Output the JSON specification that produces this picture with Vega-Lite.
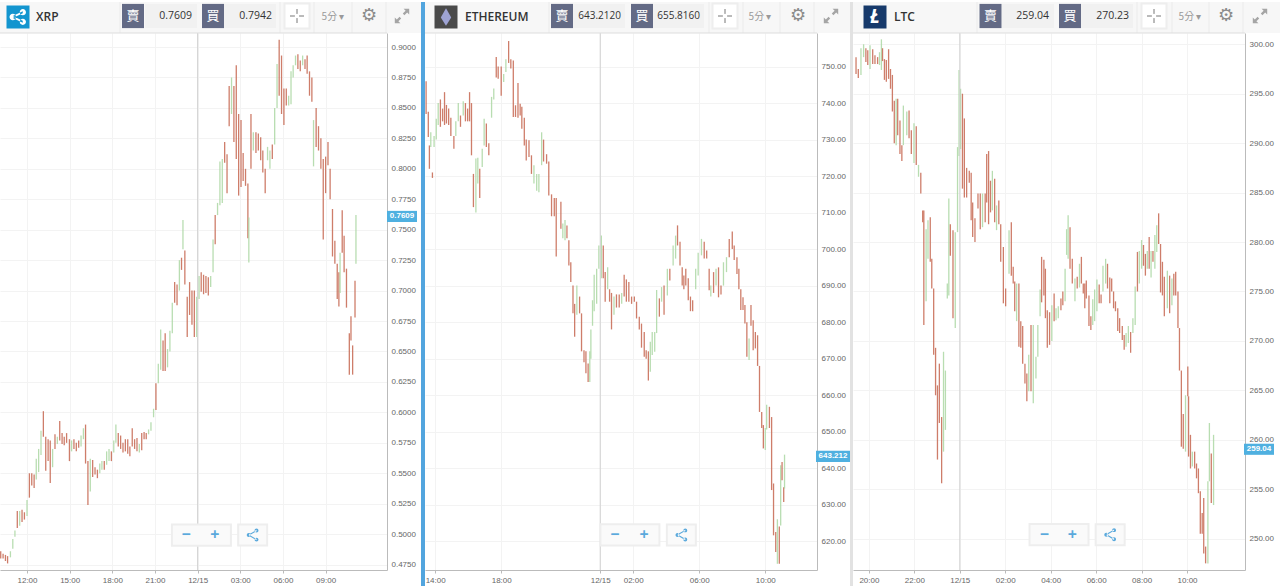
{
"$schema":"https://vega.github.io/schema/vega-lite/v6.json",
"padding":{"left":-1,"top":-1,"right":0,"bottom":0},
"background":"#ffffff",
"config":{"view":{"stroke":null},"text":{"font":"Open Sans","baseline":"middle"},"axis":{"labelFont":"Liberation Sans","labelFontSize":8,"labelColor":"#666666","gridColor":"#f3f3f3","gridWidth":1,"domainColor":"#bbbbbb","title":null}},
"datasets":{
"xrp":[
{"m":-831,"lo":0.480,"hi":0.486,"c":"r"},{"m":-821,"lo":0.480,"hi":0.484,"c":"r"},{"m":-811,"lo":0.478,"hi":0.483,"c":"r"},{"m":-802,"lo":0.476,"hi":0.482,"c":"r"},{"m":-790,"lo":0.481,"hi":0.486,"c":"g"},{"m":-780,"lo":0.488,"hi":0.496,"c":"g"},{"m":-771,"lo":0.498,"hi":0.503,"c":"g"},{"m":-761,"lo":0.505,"hi":0.519,"c":"r"},{"m":-751,"lo":0.507,"hi":0.519,"c":"g"},{"m":-741,"lo":0.510,"hi":0.520,"c":"r"},{"m":-731,"lo":0.512,"hi":0.518,"c":"r"},{"m":-720,"lo":0.515,"hi":0.528,"c":"g"},{"m":-710,"lo":0.530,"hi":0.550,"c":"r"},{"m":-700,"lo":0.540,"hi":0.550,"c":"r"},{"m":-690,"lo":0.538,"hi":0.549,"c":"r"},{"m":-681,"lo":0.545,"hi":0.562,"c":"g"},{"m":-671,"lo":0.551,"hi":0.570,"c":"g"},{"m":-661,"lo":0.565,"hi":0.585,"c":"g"},{"m":-651,"lo":0.580,"hi":0.601,"c":"r"},{"m":-641,"lo":0.552,"hi":0.580,"c":"r"},{"m":-631,"lo":0.560,"hi":0.578,"c":"r"},{"m":-622,"lo":0.542,"hi":0.577,"c":"r"},{"m":-612,"lo":0.555,"hi":0.570,"c":"g"},{"m":-602,"lo":0.570,"hi":0.582,"c":"r"},{"m":-592,"lo":0.574,"hi":0.580,"c":"g"},{"m":-582,"lo":0.577,"hi":0.593,"c":"r"},{"m":-572,"lo":0.574,"hi":0.583,"c":"r"},{"m":-563,"lo":0.573,"hi":0.580,"c":"r"},{"m":-553,"lo":0.575,"hi":0.583,"c":"r"},{"m":-541,"lo":0.560,"hi":0.578,"c":"r"},{"m":-532,"lo":0.568,"hi":0.577,"c":"g"},{"m":-522,"lo":0.570,"hi":0.578,"c":"r"},{"m":-512,"lo":0.568,"hi":0.575,"c":"r"},{"m":-502,"lo":0.571,"hi":0.577,"c":"r"},{"m":-492,"lo":0.572,"hi":0.581,"c":"g"},{"m":-482,"lo":0.578,"hi":0.587,"c":"g"},{"m":-473,"lo":0.558,"hi":0.590,"c":"r"},{"m":-463,"lo":0.524,"hi":0.560,"c":"r"},{"m":-453,"lo":0.535,"hi":0.562,"c":"g"},{"m":-443,"lo":0.547,"hi":0.561,"c":"r"},{"m":-433,"lo":0.549,"hi":0.555,"c":"r"},{"m":-423,"lo":0.546,"hi":0.553,"c":"r"},{"m":-413,"lo":0.550,"hi":0.558,"c":"g"},{"m":-404,"lo":0.553,"hi":0.560,"c":"g"},{"m":-394,"lo":0.553,"hi":0.560,"c":"r"},{"m":-384,"lo":0.557,"hi":0.568,"c":"g"},{"m":-374,"lo":0.560,"hi":0.570,"c":"g"},{"m":-364,"lo":0.560,"hi":0.568,"c":"r"},{"m":-354,"lo":0.567,"hi":0.577,"c":"g"},{"m":-345,"lo":0.575,"hi":0.590,"c":"g"},{"m":-335,"lo":0.572,"hi":0.583,"c":"r"},{"m":-325,"lo":0.570,"hi":0.581,"c":"r"},{"m":-315,"lo":0.567,"hi":0.575,"c":"r"},{"m":-305,"lo":0.568,"hi":0.578,"c":"r"},{"m":-295,"lo":0.566,"hi":0.578,"c":"r"},{"m":-286,"lo":0.564,"hi":0.572,"c":"r"},{"m":-276,"lo":0.572,"hi":0.587,"c":"r"},{"m":-266,"lo":0.570,"hi":0.578,"c":"r"},{"m":-256,"lo":0.568,"hi":0.579,"c":"r"},{"m":-246,"lo":0.567,"hi":0.574,"c":"g"},{"m":-236,"lo":0.569,"hi":0.583,"c":"r"},{"m":-226,"lo":0.578,"hi":0.584,"c":"r"},{"m":-217,"lo":0.578,"hi":0.583,"c":"r"},{"m":-207,"lo":0.582,"hi":0.586,"c":"g"},{"m":-197,"lo":0.585,"hi":0.592,"c":"g"},{"m":-186,"lo":0.596,"hi":0.603,"c":"g"},{"m":-176,"lo":0.602,"hi":0.624,"c":"r"},{"m":-166,"lo":0.624,"hi":0.640,"c":"g"},{"m":-156,"lo":0.635,"hi":0.668,"c":"g"},{"m":-146,"lo":0.634,"hi":0.659,"c":"r"},{"m":-137,"lo":0.634,"hi":0.665,"c":"r"},{"m":-127,"lo":0.637,"hi":0.652,"c":"g"},{"m":-117,"lo":0.650,"hi":0.667,"c":"g"},{"m":-107,"lo":0.665,"hi":0.690,"c":"g"},{"m":-97,"lo":0.690,"hi":0.707,"c":"r"},{"m":-87,"lo":0.688,"hi":0.705,"c":"r"},{"m":-77,"lo":0.700,"hi":0.725,"c":"g"},{"m":-68,"lo":0.717,"hi":0.727,"c":"r"},{"m":-62,"lo":0.734,"hi":0.758,"c":"g"},{"m":-54,"lo":0.705,"hi":0.733,"c":"r"},{"m":-44,"lo":0.662,"hi":0.695,"c":"r"},{"m":-34,"lo":0.680,"hi":0.707,"c":"r"},{"m":-24,"lo":0.672,"hi":0.700,"c":"r"},{"m":-14,"lo":0.662,"hi":0.700,"c":"r"},{"m":-4,"lo":0.662,"hi":0.695,"c":"g"},{"m":6,"lo":0.693,"hi":0.712,"c":"g"},{"m":15,"lo":0.699,"hi":0.715,"c":"r"},{"m":25,"lo":0.697,"hi":0.713,"c":"r"},{"m":35,"lo":0.698,"hi":0.712,"c":"r"},{"m":45,"lo":0.696,"hi":0.711,"c":"r"},{"m":55,"lo":0.703,"hi":0.712,"c":"g"},{"m":65,"lo":0.715,"hi":0.742,"c":"g"},{"m":74,"lo":0.738,"hi":0.762,"c":"r"},{"m":84,"lo":0.762,"hi":0.772,"c":"g"},{"m":94,"lo":0.770,"hi":0.806,"c":"g"},{"m":104,"lo":0.772,"hi":0.808,"c":"g"},{"m":114,"lo":0.805,"hi":0.822,"c":"r"},{"m":124,"lo":0.780,"hi":0.812,"c":"r"},{"m":133,"lo":0.835,"hi":0.868,"c":"r"},{"m":143,"lo":0.845,"hi":0.875,"c":"g"},{"m":153,"lo":0.822,"hi":0.868,"c":"r"},{"m":163,"lo":0.808,"hi":0.885,"c":"r"},{"m":173,"lo":0.778,"hi":0.845,"c":"r"},{"m":183,"lo":0.785,"hi":0.840,"c":"r"},{"m":192,"lo":0.790,"hi":0.813,"c":"r"},{"m":202,"lo":0.786,"hi":0.800,"c":"r"},{"m":212,"lo":0.743,"hi":0.788,"c":"r"},{"m":216,"lo":0.723,"hi":0.760,"c":"g"},{"m":225,"lo":0.800,"hi":0.845,"c":"r"},{"m":235,"lo":0.815,"hi":0.830,"c":"g"},{"m":246,"lo":0.813,"hi":0.830,"c":"r"},{"m":256,"lo":0.815,"hi":0.829,"c":"r"},{"m":266,"lo":0.807,"hi":0.826,"c":"r"},{"m":275,"lo":0.797,"hi":0.815,"c":"r"},{"m":285,"lo":0.780,"hi":0.800,"c":"r"},{"m":295,"lo":0.807,"hi":0.818,"c":"g"},{"m":305,"lo":0.800,"hi":0.815,"c":"g"},{"m":315,"lo":0.808,"hi":0.820,"c":"r"},{"m":325,"lo":0.820,"hi":0.850,"c":"g"},{"m":335,"lo":0.850,"hi":0.886,"c":"g"},{"m":344,"lo":0.860,"hi":0.906,"c":"r"},{"m":354,"lo":0.845,"hi":0.893,"c":"r"},{"m":364,"lo":0.836,"hi":0.866,"c":"r"},{"m":374,"lo":0.852,"hi":0.866,"c":"r"},{"m":384,"lo":0.852,"hi":0.860,"c":"g"},{"m":394,"lo":0.853,"hi":0.880,"c":"g"},{"m":403,"lo":0.875,"hi":0.885,"c":"g"},{"m":413,"lo":0.885,"hi":0.893,"c":"g"},{"m":423,"lo":0.882,"hi":0.894,"c":"r"},{"m":433,"lo":0.880,"hi":0.889,"c":"r"},{"m":443,"lo":0.885,"hi":0.893,"c":"g"},{"m":453,"lo":0.882,"hi":0.890,"c":"r"},{"m":462,"lo":0.878,"hi":0.893,"c":"r"},{"m":472,"lo":0.860,"hi":0.880,"c":"r"},{"m":482,"lo":0.855,"hi":0.875,"c":"r"},{"m":489,"lo":0.802,"hi":0.840,"c":"g"},{"m":500,"lo":0.818,"hi":0.850,"c":"r"},{"m":510,"lo":0.815,"hi":0.835,"c":"r"},{"m":520,"lo":0.800,"hi":0.825,"c":"r"},{"m":530,"lo":0.742,"hi":0.808,"c":"r"},{"m":540,"lo":0.780,"hi":0.810,"c":"r"},{"m":550,"lo":0.803,"hi":0.822,"c":"r"},{"m":559,"lo":0.775,"hi":0.800,"c":"r"},{"m":569,"lo":0.728,"hi":0.767,"c":"r"},{"m":579,"lo":0.722,"hi":0.741,"c":"r"},{"m":589,"lo":0.693,"hi":0.722,"c":"r"},{"m":596,"lo":0.687,"hi":0.715,"c":"r"},{"m":601,"lo":0.698,"hi":0.731,"c":"g"},{"m":610,"lo":0.731,"hi":0.766,"c":"r"},{"m":618,"lo":0.715,"hi":0.745,"c":"r"},{"m":628,"lo":0.686,"hi":0.718,"c":"r"},{"m":640,"lo":0.631,"hi":0.665,"c":"r"},{"m":647,"lo":0.659,"hi":0.679,"c":"r"},{"m":654,"lo":0.631,"hi":0.655,"c":"r"},{"m":664,"lo":0.678,"hi":0.708,"c":"r"},{"m":668,"lo":0.722,"hi":0.762,"c":"g"}
],
"eth":[
{"m":-633,"lo":737,"hi":746,"c":"r"},{"m":-625,"lo":730.7,"hi":737.6,"c":"r"},{"m":-621,"lo":722,"hi":728.4,"c":"r"},{"m":-616,"lo":728,"hi":732,"c":"g"},{"m":-610,"lo":719.5,"hi":721,"c":"r"},{"m":-604,"lo":728,"hi":731,"c":"g"},{"m":-596,"lo":730,"hi":735.7,"c":"g"},{"m":-589,"lo":734,"hi":740,"c":"g"},{"m":-581,"lo":733.5,"hi":741,"c":"r"},{"m":-573,"lo":735,"hi":738.5,"c":"r"},{"m":-566,"lo":734,"hi":743,"c":"r"},{"m":-559,"lo":734.4,"hi":739.5,"c":"r"},{"m":-551,"lo":734,"hi":738.5,"c":"r"},{"m":-543,"lo":731,"hi":736,"c":"r"},{"m":-532,"lo":727.5,"hi":731,"c":"r"},{"m":-525,"lo":731,"hi":735,"c":"g"},{"m":-516,"lo":735,"hi":740,"c":"g"},{"m":-508,"lo":733.5,"hi":736.6,"c":"r"},{"m":-498,"lo":736.6,"hi":740.5,"c":"g"},{"m":-490,"lo":735,"hi":740,"c":"r"},{"m":-482,"lo":735,"hi":738.5,"c":"r"},{"m":-475,"lo":735,"hi":743,"c":"r"},{"m":-468,"lo":725.7,"hi":740,"c":"r"},{"m":-461,"lo":711.5,"hi":720.6,"c":"r"},{"m":-452,"lo":710,"hi":724.8,"c":"g"},{"m":-445,"lo":718,"hi":725,"c":"g"},{"m":-438,"lo":714,"hi":722,"c":"r"},{"m":-429,"lo":722.5,"hi":727.5,"c":"g"},{"m":-422,"lo":728.4,"hi":735.7,"c":"g"},{"m":-414,"lo":728,"hi":734.4,"c":"r"},{"m":-405,"lo":725.7,"hi":729,"c":"r"},{"m":-395,"lo":736,"hi":741.7,"c":"g"},{"m":-387,"lo":741,"hi":744,"c":"g"},{"m":-378,"lo":747,"hi":752.6,"c":"r"},{"m":-371,"lo":746.7,"hi":750,"c":"r"},{"m":-360,"lo":742,"hi":750,"c":"r"},{"m":-351,"lo":745.8,"hi":748,"c":"g"},{"m":-343,"lo":748.5,"hi":752,"c":"g"},{"m":-333,"lo":751,"hi":757,"c":"r"},{"m":-325,"lo":749.5,"hi":752,"c":"r"},{"m":-316,"lo":736.2,"hi":751.7,"c":"r"},{"m":-308,"lo":736.2,"hi":739.4,"c":"r"},{"m":-299,"lo":736,"hi":745.5,"c":"r"},{"m":-291,"lo":736.6,"hi":739.8,"c":"r"},{"m":-285,"lo":733,"hi":739,"c":"r"},{"m":-276,"lo":728.4,"hi":736,"c":"r"},{"m":-269,"lo":724.3,"hi":730,"c":"r"},{"m":-259,"lo":725.2,"hi":729.8,"c":"r"},{"m":-250,"lo":720.6,"hi":725.7,"c":"r"},{"m":-241,"lo":718,"hi":723,"c":"g"},{"m":-231,"lo":716,"hi":720.6,"c":"g"},{"m":-223,"lo":715.6,"hi":720.6,"c":"g"},{"m":-213,"lo":723,"hi":732,"c":"g"},{"m":-206,"lo":724,"hi":730,"c":"r"},{"m":-195,"lo":723.4,"hi":726,"c":"r"},{"m":-187,"lo":714.7,"hi":724,"c":"r"},{"m":-177,"lo":709,"hi":715,"c":"r"},{"m":-167,"lo":709,"hi":714,"c":"r"},{"m":-160,"lo":698,"hi":714,"c":"r"},{"m":-143,"lo":705.6,"hi":713,"c":"r"},{"m":-136,"lo":703,"hi":707,"c":"g"},{"m":-128,"lo":702.4,"hi":708,"c":"g"},{"m":-121,"lo":703,"hi":706.5,"c":"r"},{"m":-114,"lo":695.5,"hi":702.4,"c":"r"},{"m":-107,"lo":691,"hi":696.4,"c":"r"},{"m":-99,"lo":682.4,"hi":690,"c":"r"},{"m":-93,"lo":676,"hi":685,"c":"r"},{"m":-85,"lo":682,"hi":690,"c":"g"},{"m":-75,"lo":682.4,"hi":687,"c":"r"},{"m":-68,"lo":672,"hi":682.4,"c":"r"},{"m":-59,"lo":669,"hi":672.3,"c":"r"},{"m":-52,"lo":666,"hi":672,"c":"r"},{"m":-44,"lo":663.6,"hi":668.7,"c":"r"},{"m":-38,"lo":663.6,"hi":672,"c":"g"},{"m":-34,"lo":670,"hi":678,"c":"g"},{"m":-28,"lo":679,"hi":686,"c":"g"},{"m":-22,"lo":683,"hi":693,"c":"g"},{"m":-13,"lo":685,"hi":694.6,"c":"g"},{"m":-5,"lo":694.6,"hi":701,"c":"g"},{"m":4,"lo":692,"hi":703.7,"c":"g"},{"m":11,"lo":692,"hi":701,"c":"r"},{"m":18,"lo":685.6,"hi":693.7,"c":"r"},{"m":27,"lo":689,"hi":695,"c":"g"},{"m":34,"lo":685.6,"hi":689,"c":"r"},{"m":41,"lo":678,"hi":688,"c":"r"},{"m":50,"lo":682,"hi":687,"c":"g"},{"m":59,"lo":684,"hi":687.6,"c":"r"},{"m":69,"lo":684,"hi":687.6,"c":"r"},{"m":78,"lo":685,"hi":688,"c":"g"},{"m":87,"lo":687,"hi":693,"c":"r"},{"m":95,"lo":685.6,"hi":691.7,"c":"r"},{"m":104,"lo":685.6,"hi":691,"c":"r"},{"m":114,"lo":685,"hi":687,"c":"r"},{"m":124,"lo":685.6,"hi":687,"c":"r"},{"m":132,"lo":681,"hi":685.6,"c":"r"},{"m":142,"lo":678,"hi":681.5,"c":"r"},{"m":150,"lo":673,"hi":679.6,"c":"r"},{"m":160,"lo":670.5,"hi":677.3,"c":"r"},{"m":167,"lo":670,"hi":672.3,"c":"r"},{"m":175,"lo":664,"hi":672,"c":"r"},{"m":182,"lo":666.4,"hi":674.6,"c":"g"},{"m":189,"lo":671,"hi":677.3,"c":"g"},{"m":198,"lo":671.9,"hi":677.3,"c":"g"},{"m":205,"lo":677,"hi":688.8,"c":"g"},{"m":215,"lo":681.5,"hi":686.5,"c":"r"},{"m":223,"lo":685.6,"hi":689.6,"c":"g"},{"m":232,"lo":682,"hi":690,"c":"r"},{"m":244,"lo":687.3,"hi":694.6,"c":"g"},{"m":253,"lo":691.4,"hi":694.6,"c":"r"},{"m":265,"lo":695.5,"hi":701,"c":"g"},{"m":274,"lo":697.4,"hi":703.7,"c":"g"},{"m":281,"lo":701,"hi":706.5,"c":"r"},{"m":290,"lo":695.5,"hi":702,"c":"r"},{"m":298,"lo":690,"hi":695,"c":"r"},{"m":304,"lo":689,"hi":692.8,"c":"r"},{"m":311,"lo":690,"hi":694.6,"c":"r"},{"m":320,"lo":686,"hi":692,"c":"r"},{"m":328,"lo":683,"hi":687,"c":"r"},{"m":336,"lo":683,"hi":686,"c":"r"},{"m":347,"lo":689,"hi":694.6,"c":"g"},{"m":356,"lo":692.8,"hi":699,"c":"g"},{"m":368,"lo":698.3,"hi":702.8,"c":"g"},{"m":378,"lo":697.4,"hi":702,"c":"r"},{"m":387,"lo":697.4,"hi":699.6,"c":"r"},{"m":396,"lo":688.7,"hi":694.6,"c":"r"},{"m":402,"lo":687,"hi":690,"c":"g"},{"m":412,"lo":688,"hi":693.7,"c":"r"},{"m":421,"lo":690,"hi":694.6,"c":"g"},{"m":430,"lo":686.8,"hi":695,"c":"r"},{"m":439,"lo":687.6,"hi":690,"c":"r"},{"m":448,"lo":690,"hi":696.4,"c":"g"},{"m":459,"lo":693.7,"hi":697.8,"c":"g"},{"m":469,"lo":697.8,"hi":702.8,"c":"r"},{"m":480,"lo":700,"hi":704.8,"c":"r"},{"m":487,"lo":697,"hi":701,"c":"r"},{"m":497,"lo":693.2,"hi":697.8,"c":"r"},{"m":504,"lo":689,"hi":694.6,"c":"r"},{"m":511,"lo":683.3,"hi":689,"c":"r"},{"m":519,"lo":683.3,"hi":686.8,"c":"r"},{"m":526,"lo":679.6,"hi":684.7,"c":"r"},{"m":533,"lo":670.5,"hi":680,"c":"r"},{"m":541,"lo":669.6,"hi":675.5,"c":"g"},{"m":548,"lo":679,"hi":684.7,"c":"r"},{"m":556,"lo":672.3,"hi":680.5,"c":"r"},{"m":564,"lo":672.8,"hi":677.3,"c":"r"},{"m":572,"lo":668,"hi":676.4,"c":"r"},{"m":579,"lo":655.4,"hi":668,"c":"r"},{"m":587,"lo":651,"hi":655.4,"c":"r"},{"m":593,"lo":645.4,"hi":651.8,"c":"r"},{"m":600,"lo":645,"hi":651,"c":"g"},{"m":605,"lo":650.6,"hi":657.4,"c":"g"},{"m":615,"lo":651,"hi":656.8,"c":"r"},{"m":623,"lo":634,"hi":654,"c":"r"},{"m":630,"lo":621.6,"hi":635.8,"c":"r"},{"m":638,"lo":617,"hi":622.5,"c":"r"},{"m":644,"lo":613.8,"hi":626,"c":"g"},{"m":651,"lo":613.8,"hi":624,"c":"r"},{"m":656,"lo":624.3,"hi":640.8,"c":"g"},{"m":661,"lo":636.7,"hi":641.7,"c":"r"},{"m":667,"lo":630.7,"hi":634.8,"c":"r"},{"m":670,"lo":634.4,"hi":643.7,"c":"g"}
],
"ltc":[
{"m":-274,"lo":297,"hi":298.7,"c":"r"},{"m":-268,"lo":296.6,"hi":297.5,"c":"r"},{"m":-261,"lo":296.9,"hi":299.6,"c":"g"},{"m":-254,"lo":298.7,"hi":300,"c":"g"},{"m":-248,"lo":298.2,"hi":299.6,"c":"r"},{"m":-243,"lo":297.9,"hi":299.4,"c":"r"},{"m":-237,"lo":297.5,"hi":299.9,"c":"g"},{"m":-230,"lo":298,"hi":299.5,"c":"r"},{"m":-224,"lo":298,"hi":298.9,"c":"r"},{"m":-217,"lo":298,"hi":298.7,"c":"r"},{"m":-212,"lo":297.9,"hi":299.2,"c":"g"},{"m":-207,"lo":297.4,"hi":300.5,"c":"g"},{"m":-204,"lo":298.3,"hi":299.6,"c":"r"},{"m":-199,"lo":296.4,"hi":298.5,"c":"r"},{"m":-194,"lo":296.2,"hi":298.4,"c":"r"},{"m":-188,"lo":296.5,"hi":299.5,"c":"r"},{"m":-183,"lo":295.5,"hi":297.5,"c":"r"},{"m":-178,"lo":293.2,"hi":296.9,"c":"r"},{"m":-173,"lo":290,"hi":294.3,"c":"r"},{"m":-168,"lo":289.8,"hi":294.5,"c":"g"},{"m":-164,"lo":290.8,"hi":294.5,"c":"r"},{"m":-158,"lo":288.9,"hi":292.3,"c":"r"},{"m":-153,"lo":288.2,"hi":289.8,"c":"r"},{"m":-149,"lo":289.8,"hi":293.8,"c":"g"},{"m":-140,"lo":290.8,"hi":293.2,"c":"g"},{"m":-134,"lo":290.5,"hi":293.3,"c":"r"},{"m":-128,"lo":288.9,"hi":291.3,"c":"r"},{"m":-121,"lo":288,"hi":292,"c":"g"},{"m":-115,"lo":287.8,"hi":291.7,"c":"r"},{"m":-109,"lo":286.6,"hi":287.8,"c":"g"},{"m":-103,"lo":284.9,"hi":287,"c":"r"},{"m":-98,"lo":282,"hi":283.2,"c":"r"},{"m":-95,"lo":271.6,"hi":283.2,"c":"r"},{"m":-89,"lo":274,"hi":281.3,"c":"g"},{"m":-84,"lo":278.3,"hi":282.2,"c":"g"},{"m":-78,"lo":278,"hi":282.5,"c":"r"},{"m":-74,"lo":275.3,"hi":278.3,"c":"r"},{"m":-69,"lo":268.6,"hi":275.3,"c":"r"},{"m":-64,"lo":264.5,"hi":269.3,"c":"r"},{"m":-59,"lo":258,"hi":265.5,"c":"r"},{"m":-54,"lo":261.7,"hi":267.7,"c":"r"},{"m":-48,"lo":255.6,"hi":262.3,"c":"r"},{"m":-43,"lo":258.8,"hi":268.9,"c":"g"},{"m":-38,"lo":261,"hi":267,"c":"g"},{"m":-33,"lo":274.3,"hi":275.8,"c":"g"},{"m":-29,"lo":274.6,"hi":284.4,"c":"g"},{"m":-25,"lo":278.6,"hi":281.8,"c":"r"},{"m":-18,"lo":272.3,"hi":281.2,"c":"r"},{"m":-12,"lo":271.3,"hi":281,"c":"g"},{"m":-6,"lo":281,"hi":289.6,"c":"g"},{"m":-2,"lo":288.7,"hi":297.4,"c":"g"},{"m":2,"lo":289.4,"hi":295.5,"c":"g"},{"m":7,"lo":285.4,"hi":295,"c":"r"},{"m":12,"lo":284.5,"hi":292.5,"c":"r"},{"m":18,"lo":284.5,"hi":287.5,"c":"r"},{"m":25,"lo":286,"hi":287.2,"c":"r"},{"m":30,"lo":282.2,"hi":287,"c":"r"},{"m":34,"lo":280.5,"hi":284,"c":"r"},{"m":40,"lo":280,"hi":282.4,"c":"r"},{"m":48,"lo":283.4,"hi":284.9,"c":"r"},{"m":54,"lo":281.3,"hi":284.9,"c":"r"},{"m":60,"lo":281.5,"hi":284.9,"c":"g"},{"m":67,"lo":282,"hi":284.9,"c":"r"},{"m":71,"lo":284,"hi":288.9,"c":"r"},{"m":76,"lo":281.8,"hi":289.2,"c":"r"},{"m":81,"lo":283,"hi":286.2,"c":"r"},{"m":86,"lo":283.2,"hi":287.2,"c":"g"},{"m":92,"lo":282,"hi":286.4,"c":"r"},{"m":97,"lo":281.2,"hi":283.7,"c":"g"},{"m":103,"lo":281.8,"hi":284.2,"c":"r"},{"m":108,"lo":278,"hi":281.8,"c":"r"},{"m":115,"lo":273.8,"hi":279.5,"c":"r"},{"m":121,"lo":273.5,"hi":275.3,"c":"r"},{"m":130,"lo":276.8,"hi":281.2,"c":"g"},{"m":136,"lo":276.6,"hi":282,"c":"r"},{"m":141,"lo":275.8,"hi":277.5,"c":"r"},{"m":145,"lo":273,"hi":276,"c":"r"},{"m":150,"lo":272,"hi":275.8,"c":"g"},{"m":156,"lo":269.4,"hi":275.8,"c":"r"},{"m":161,"lo":269.3,"hi":272,"c":"r"},{"m":166,"lo":267.7,"hi":271.5,"c":"r"},{"m":172,"lo":265.7,"hi":267.7,"c":"r"},{"m":177,"lo":263.9,"hi":266.7,"c":"r"},{"m":182,"lo":264.9,"hi":268.6,"c":"g"},{"m":188,"lo":264.9,"hi":271.6,"c":"r"},{"m":194,"lo":263.7,"hi":271.6,"c":"g"},{"m":201,"lo":266.2,"hi":268.4,"c":"g"},{"m":206,"lo":268.4,"hi":271.6,"c":"g"},{"m":212,"lo":272.5,"hi":275.2,"c":"g"},{"m":216,"lo":273.9,"hi":278.5,"c":"r"},{"m":222,"lo":274.6,"hi":278.2,"c":"r"},{"m":226,"lo":272.3,"hi":277.3,"c":"r"},{"m":231,"lo":269.3,"hi":273.1,"c":"r"},{"m":237,"lo":269.6,"hi":272.9,"c":"r"},{"m":243,"lo":270,"hi":273.6,"c":"g"},{"m":249,"lo":272,"hi":274.8,"c":"r"},{"m":254,"lo":272.1,"hi":273.3,"c":"g"},{"m":260,"lo":272.3,"hi":273.5,"c":"g"},{"m":267,"lo":273.1,"hi":274.3,"c":"r"},{"m":272,"lo":273.6,"hi":275,"c":"r"},{"m":278,"lo":274,"hi":277.3,"c":"g"},{"m":282,"lo":278.7,"hi":281.3,"c":"g"},{"m":286,"lo":278.3,"hi":282.7,"c":"g"},{"m":291,"lo":277.3,"hi":281.5,"c":"r"},{"m":297,"lo":275.8,"hi":278.3,"c":"r"},{"m":304,"lo":274,"hi":276.3,"c":"g"},{"m":310,"lo":275.3,"hi":276.5,"c":"r"},{"m":316,"lo":275.4,"hi":277.8,"c":"g"},{"m":321,"lo":275.8,"hi":278.5,"c":"r"},{"m":326,"lo":274.8,"hi":275.8,"c":"r"},{"m":330,"lo":273.3,"hi":275.8,"c":"r"},{"m":334,"lo":274.3,"hi":276.1,"c":"r"},{"m":341,"lo":271.5,"hi":274.6,"c":"r"},{"m":346,"lo":271.1,"hi":272.5,"c":"r"},{"m":351,"lo":271.6,"hi":274.2,"c":"g"},{"m":356,"lo":272,"hi":275.2,"c":"g"},{"m":362,"lo":273,"hi":276.2,"c":"g"},{"m":368,"lo":273.8,"hi":275.7,"c":"r"},{"m":373,"lo":273.8,"hi":274.7,"c":"r"},{"m":378,"lo":275,"hi":277.6,"c":"g"},{"m":385,"lo":275.8,"hi":278.3,"c":"g"},{"m":390,"lo":275.3,"hi":277.8,"c":"r"},{"m":396,"lo":273.8,"hi":276.4,"c":"r"},{"m":401,"lo":275,"hi":276.3,"c":"r"},{"m":406,"lo":273.3,"hi":275,"c":"r"},{"m":411,"lo":273,"hi":274,"c":"r"},{"m":417,"lo":271,"hi":273.3,"c":"r"},{"m":422,"lo":270.8,"hi":272.3,"c":"r"},{"m":429,"lo":270.1,"hi":271.5,"c":"r"},{"m":434,"lo":269.1,"hi":270.6,"c":"r"},{"m":439,"lo":269.4,"hi":270.8,"c":"g"},{"m":445,"lo":269.8,"hi":271.5,"c":"g"},{"m":451,"lo":268.8,"hi":270.9,"c":"r"},{"m":457,"lo":270.8,"hi":272.3,"c":"g"},{"m":463,"lo":271.6,"hi":275.5,"c":"g"},{"m":469,"lo":275,"hi":279,"c":"r"},{"m":474,"lo":275.8,"hi":279.1,"c":"g"},{"m":480,"lo":277.3,"hi":280.2,"c":"g"},{"m":485,"lo":277.6,"hi":279.7,"c":"r"},{"m":490,"lo":276.6,"hi":278.8,"c":"r"},{"m":495,"lo":277.3,"hi":279.1,"c":"g"},{"m":500,"lo":277.3,"hi":280.5,"c":"r"},{"m":505,"lo":276.4,"hi":279.1,"c":"g"},{"m":510,"lo":278,"hi":279.1,"c":"r"},{"m":515,"lo":277.3,"hi":280.7,"c":"g"},{"m":520,"lo":279,"hi":281.7,"c":"g"},{"m":525,"lo":279.8,"hi":282.9,"c":"r"},{"m":530,"lo":274.9,"hi":279.8,"c":"r"},{"m":535,"lo":274.6,"hi":278,"c":"r"},{"m":540,"lo":272.5,"hi":276.5,"c":"r"},{"m":548,"lo":273.3,"hi":277.1,"c":"g"},{"m":554,"lo":272.8,"hi":276.6,"c":"r"},{"m":560,"lo":273.6,"hi":276.3,"c":"g"},{"m":565,"lo":274.6,"hi":276.8,"c":"r"},{"m":570,"lo":274.6,"hi":277,"c":"r"},{"m":576,"lo":271.3,"hi":275,"c":"r"},{"m":580,"lo":267,"hi":271.3,"c":"r"},{"m":585,"lo":259.3,"hi":267,"c":"r"},{"m":590,"lo":259.1,"hi":262.6,"c":"r"},{"m":596,"lo":258.8,"hi":264.5,"c":"g"},{"m":602,"lo":264.4,"hi":267.4,"c":"r"},{"m":604,"lo":258.3,"hi":264.4,"c":"r"},{"m":609,"lo":257.1,"hi":260.5,"c":"r"},{"m":614,"lo":257.3,"hi":258.8,"c":"g"},{"m":620,"lo":257.1,"hi":258.8,"c":"r"},{"m":625,"lo":256.1,"hi":257.6,"c":"r"},{"m":630,"lo":254.6,"hi":257.1,"c":"r"},{"m":635,"lo":250.5,"hi":254.8,"c":"r"},{"m":640,"lo":250.5,"hi":252.6,"c":"r"},{"m":644,"lo":248.5,"hi":254.1,"c":"r"},{"m":649,"lo":247.5,"hi":249.2,"c":"r"},{"m":655,"lo":247.5,"hi":255.8,"c":"g"},{"m":659,"lo":255.8,"hi":261.7,"c":"g"},{"m":664,"lo":253.6,"hi":258.6,"c":"r"},{"m":670,"lo":253.4,"hi":260.5,"c":"g"}
]
},
"hconcat":[
{"spacing":0,"bounds":"flush","vconcat":[
{"width":421,"height":31,"view":{"fill":"#f7f7f7","stroke":null},"data":{"values":[{}]},"layer":[
{"mark":{"type":"rule","color":"#ebebeb"},"encoding":{"x":{"datum":120,"scale":{"domain":[0,421],"nice":false},"axis":null}}},
{"mark":{"type":"rule","color":"#ebebeb"},"encoding":{"x":{"datum":280,"axis":null}}},
{"mark":{"type":"rule","color":"#ebebeb"},"encoding":{"x":{"datum":314,"axis":null}}},
{"mark":{"type":"rule","color":"#ebebeb"},"encoding":{"x":{"datum":352,"axis":null}}},
{"mark":{"type":"rule","color":"#ebebeb"},"encoding":{"x":{"datum":386,"axis":null}}},
{"mark":{"type":"point","shape":"square","filled":true,"opacity":1,"color":"#1395cf","size":529},"encoding":{"x":{"datum":18,"axis":null},"y":{"datum":16,"scale":{"domain":[0,31],"nice":false},"axis":null}}},
{"mark":{"type":"point","shape":"M-.98,0a.38,.38 0 1,0 .76,0a.38,.38 0 1,0 -.76,0ZM.2,-.55a.36,.36 0 1,0 .72,0a.36,.36 0 1,0 -.72,0ZM.2,.55a.36,.36 0 1,0 .72,0a.36,.36 0 1,0 -.72,0ZM-.6,-.12L.55,-.67V-.43L-.6,.12ZM-.6,-.12L.55,.43V.67L-.6,.12Z","filled":true,"opacity":1,"color":"#ffffff","size":300},"encoding":{"x":{"datum":18,"axis":null},"y":{"datum":16,"axis":null}}},
{"mark":{"type":"text","align":"left","fontSize":12,"fontWeight":600,"color":"#333333"},"encoding":{"x":{"datum":36,"axis":null},"y":{"datum":16,"axis":null},"text":{"value":"XRP"}}},
{"mark":{"type":"point","shape":"M-1,-.46H1V.46H-1Z","filled":true,"opacity":1,"color":"#f1f1f1","size":2704},"encoding":{"x":{"datum":171,"axis":null},"y":{"datum":17,"axis":null}}},
{"mark":{"type":"point","shape":"M-1,-.46H1V.46H-1Z","filled":true,"opacity":1,"color":"#f1f1f1","size":2704},"encoding":{"x":{"datum":250,"axis":null},"y":{"datum":17,"axis":null}}},
{"mark":{"type":"point","shape":"M-1,-1.1H1V1.1H-1Z","filled":true,"opacity":1,"color":"#636a85","size":484},"encoding":{"x":{"datum":133,"axis":null},"y":{"datum":17,"axis":null}}},
{"mark":{"type":"point","shape":"M-1,-1.1H1V1.1H-1Z","filled":true,"opacity":1,"color":"#636a85","size":484},"encoding":{"x":{"datum":213,"axis":null},"y":{"datum":17,"axis":null}}},
{"mark":{"type":"text","font":"Noto Sans CJK TC","fontSize":13,"color":"#ffffff"},"encoding":{"x":{"datum":133,"axis":null},"y":{"datum":17,"axis":null},"text":{"value":"賣"}}},
{"mark":{"type":"text","font":"Noto Sans CJK TC","fontSize":13,"color":"#ffffff"},"encoding":{"x":{"datum":213,"axis":null},"y":{"datum":17,"axis":null},"text":{"value":"買"}}},
{"mark":{"type":"text","align":"right","fontSize":10.5,"color":"#333333"},"encoding":{"x":{"datum":192,"axis":null},"y":{"datum":17,"axis":null},"text":{"value":"0.7609"}}},
{"mark":{"type":"text","align":"right","fontSize":10.5,"color":"#333333"},"encoding":{"x":{"datum":272,"axis":null},"y":{"datum":17,"axis":null},"text":{"value":"0.7942"}}},
{"mark":{"type":"point","shape":"square","filled":true,"opacity":1,"color":"#ffffff","stroke":"#eeeeee","size":625},"encoding":{"x":{"datum":297,"axis":null},"y":{"datum":17,"axis":null}}},
{"mark":{"type":"point","shape":"M-1,0H-.3M.3,0H1M0,-1V-.3M0,.3V1","filled":false,"opacity":1,"color":"#777777","strokeWidth":1,"size":196},"encoding":{"x":{"datum":297,"axis":null},"y":{"datum":17,"axis":null}}},
{"mark":{"type":"text","font":"Noto Sans CJK TC","fontSize":10,"color":"#9a9a9a"},"encoding":{"x":{"datum":333,"axis":null},"y":{"datum":16,"axis":null},"text":{"value":"5分 ▾"}}},
{"mark":{"type":"text","font":"DejaVu Sans","fontSize":18,"color":"#8b8b8b"},"encoding":{"x":{"datum":369,"axis":null},"y":{"datum":17,"axis":null},"text":{"value":"⚙"}}},
{"mark":{"type":"point","shape":"M.2,-.9H.9V-.2L.65,-.45L.3,-.1L.1,-.3L.45,-.65ZM-.2,.9H-.9V.2L-.65,.45L-.3,.1L-.1,.3L-.45,.65Z","filled":true,"opacity":1,"color":"#a5a5a5","size":256},"encoding":{"x":{"datum":402,"axis":null},"y":{"datum":17,"axis":null}}}
]},
{"width":387,"height":537,"resolve":{"axis":{"x":"independent","y":"independent"}},"layer":[
{"data":{"name":"xrp"},"mark":{"type":"rule","strokeWidth":1.3,"opacity":0.85},"encoding":{
"x":{"field":"m","type":"quantitative","scale":{"domain":[-834,799],"nice":false,"zero":false},"axis":{"values":[-720,-540,-360,-180,0,180,360,540],"labelExpr":"datum.value==0?'12/15':format((datum.value+1440)%1440/60,'02d')+':00'","tickSize":3,"tickColor":"#bbbbbb","labelPadding":3,"minExtent":18,"maxExtent":18}},
"y":{"field":"lo","type":"quantitative","scale":{"domain":[0.4706,0.9115],"nice":false,"zero":false},"axis":{"orient":"right","values":[0.475,0.5,0.525,0.55,0.575,0.6,0.625,0.65,0.675,0.7,0.725,0.75,0.775,0.8,0.825,0.85,0.875,0.9],"format":".4f","tickSize":0,"labelPadding":4,"minExtent":34,"maxExtent":34}},
"y2":{"field":"hi"},
"color":{"field":"c","type":"nominal","scale":{"domain":["g","r"],"range":["#abd7a3","#c66650"]},"legend":null}}},
{"data":{"values":[{}]},"mark":{"type":"rule","color":"#d0d0d0"},"encoding":{"x":{"datum":0,"axis":null}}},
{"data":{"values":[{}]},"mark":{"type":"rule","color":"#dddddd"},"encoding":{"y":{"datum":0.9115,"axis":null}}},
{"data":{"values":[{"last":0.7609}]},"mark":{"type":"point","shape":"M-1,-.37H1V.37H-1Z","filled":true,"opacity":1,"color":"#4fb0e0","size":900,"xOffset":15},"encoding":{"x":{"datum":799,"axis":null},"y":{"field":"last","type":"quantitative","axis":null}}},
{"data":{"values":[{"last":0.7609}]},"mark":{"type":"text","font":"Liberation Sans","fontSize":8,"fontWeight":"bold","color":"#ffffff","dx":15},"encoding":{"x":{"datum":799,"axis":null},"y":{"field":"last","type":"quantitative","axis":null},"text":{"field":"last","format":".4f"}}},
{"data":{"values":[{}]},"mark":{"type":"point","shape":"M-1,-.36H1V.36H-1Z","filled":true,"opacity":1,"color":"#fafafa","stroke":"#eeeeee","size":3481},"encoding":{"x":{"datum":16,"axis":null},"y":{"datum":0.4993,"axis":null}}},
{"data":{"values":[{}]},"mark":{"type":"point","shape":"M-1,-.72H1V.72H-1Z","filled":true,"opacity":1,"color":"#fafafa","stroke":"#eeeeee","size":841},"encoding":{"x":{"datum":232,"axis":null},"y":{"datum":0.4993,"axis":null}}},
{"data":{"values":[{}]},"mark":{"type":"text","fontSize":16,"fontWeight":"bold","color":"#5aa9dc"},"encoding":{"x":{"datum":-49,"axis":null},"y":{"datum":0.4993,"axis":null},"text":{"value":"−"}}},
{"data":{"values":[{}]},"mark":{"type":"text","fontSize":16,"fontWeight":"bold","color":"#5aa9dc"},"encoding":{"x":{"datum":73,"axis":null},"y":{"datum":0.4993,"axis":null},"text":{"value":"+"}}},
{"data":{"values":[{}]},"mark":{"type":"point","shape":"M-.9,0a.3,.3 0 1,0 .6,0a.3,.3 0 1,0 -.6,0ZM.3,-.7a.3,.3 0 1,0 .6,0a.3,.3 0 1,0 -.6,0ZM.3,.7a.3,.3 0 1,0 .6,0a.3,.3 0 1,0 -.6,0ZM-.6,-.1L.6,-.8V-.6L-.6,.1ZM-.6,-.1L.6,.6V.8L-.6,.1Z","filled":true,"opacity":1,"color":"#5aa9dc","size":170},"encoding":{"x":{"datum":232,"axis":null},"y":{"datum":0.4993,"axis":null}}}
]}
]},
{"width":4,"height":586,"data":{"values":[{}]},"view":{"fill":"#52a5de","stroke":null},"mark":{"type":"rule","opacity":0},"encoding":{}},
{"spacing":0,"bounds":"flush","vconcat":[
{"width":425,"height":31,"view":{"fill":"#f7f7f7","stroke":null},"data":{"values":[{}]},"layer":[
{"mark":{"type":"rule","color":"#ebebeb"},"encoding":{"x":{"datum":124,"scale":{"domain":[0,425],"nice":false},"axis":null}}},
{"mark":{"type":"rule","color":"#ebebeb"},"encoding":{"x":{"datum":284,"axis":null}}},
{"mark":{"type":"rule","color":"#ebebeb"},"encoding":{"x":{"datum":318,"axis":null}}},
{"mark":{"type":"rule","color":"#ebebeb"},"encoding":{"x":{"datum":355,"axis":null}}},
{"mark":{"type":"rule","color":"#ebebeb"},"encoding":{"x":{"datum":389,"axis":null}}},
{"mark":{"type":"point","shape":"square","filled":true,"opacity":1,"color":"#4a4a4a","size":529},"encoding":{"x":{"datum":21,"axis":null},"y":{"datum":16,"scale":{"domain":[0,31],"nice":false},"axis":null}}},
{"mark":{"type":"point","shape":"M0,-1L.6,.05L0,1L-.6,.05Z","filled":true,"opacity":1,"color":"#9ea3d4","size":300},"encoding":{"x":{"datum":21,"axis":null},"y":{"datum":16,"axis":null}}},
{"mark":{"type":"text","align":"left","fontSize":12,"fontWeight":600,"color":"#333333"},"encoding":{"x":{"datum":40,"axis":null},"y":{"datum":16,"axis":null},"text":{"value":"ETHEREUM"}}},
{"mark":{"type":"point","shape":"M-1,-.46H1V.46H-1Z","filled":true,"opacity":1,"color":"#f1f1f1","size":2704},"encoding":{"x":{"datum":174,"axis":null},"y":{"datum":17,"axis":null}}},
{"mark":{"type":"point","shape":"M-1,-.46H1V.46H-1Z","filled":true,"opacity":1,"color":"#f1f1f1","size":2704},"encoding":{"x":{"datum":253,"axis":null},"y":{"datum":17,"axis":null}}},
{"mark":{"type":"point","shape":"M-1,-1.1H1V1.1H-1Z","filled":true,"opacity":1,"color":"#636a85","size":484},"encoding":{"x":{"datum":137,"axis":null},"y":{"datum":17,"axis":null}}},
{"mark":{"type":"point","shape":"M-1,-1.1H1V1.1H-1Z","filled":true,"opacity":1,"color":"#636a85","size":484},"encoding":{"x":{"datum":217,"axis":null},"y":{"datum":17,"axis":null}}},
{"mark":{"type":"text","font":"Noto Sans CJK TC","fontSize":13,"color":"#ffffff"},"encoding":{"x":{"datum":137,"axis":null},"y":{"datum":17,"axis":null},"text":{"value":"賣"}}},
{"mark":{"type":"text","font":"Noto Sans CJK TC","fontSize":13,"color":"#ffffff"},"encoding":{"x":{"datum":217,"axis":null},"y":{"datum":17,"axis":null},"text":{"value":"買"}}},
{"mark":{"type":"text","align":"right","fontSize":10,"color":"#333333"},"encoding":{"x":{"datum":196,"axis":null},"y":{"datum":17,"axis":null},"text":{"value":"643.2120"}}},
{"mark":{"type":"text","align":"right","fontSize":10,"color":"#333333"},"encoding":{"x":{"datum":275,"axis":null},"y":{"datum":17,"axis":null},"text":{"value":"655.8160"}}},
{"mark":{"type":"point","shape":"square","filled":true,"opacity":1,"color":"#ffffff","stroke":"#eeeeee","size":625},"encoding":{"x":{"datum":300,"axis":null},"y":{"datum":17,"axis":null}}},
{"mark":{"type":"point","shape":"M-1,0H-.3M.3,0H1M0,-1V-.3M0,.3V1","filled":false,"opacity":1,"color":"#777777","strokeWidth":1,"size":196},"encoding":{"x":{"datum":300,"axis":null},"y":{"datum":17,"axis":null}}},
{"mark":{"type":"text","font":"Noto Sans CJK TC","fontSize":10,"color":"#9a9a9a"},"encoding":{"x":{"datum":335,"axis":null},"y":{"datum":16,"axis":null},"text":{"value":"5分 ▾"}}},
{"mark":{"type":"text","font":"DejaVu Sans","fontSize":18,"color":"#8b8b8b"},"encoding":{"x":{"datum":373,"axis":null},"y":{"datum":17,"axis":null},"text":{"value":"⚙"}}},
{"mark":{"type":"point","shape":"M.2,-.9H.9V-.2L.65,-.45L.3,-.1L.1,-.3L.45,-.65ZM-.2,.9H-.9V.2L-.65,.45L-.3,.1L-.1,.3L-.45,.65Z","filled":true,"opacity":1,"color":"#a5a5a5","size":256},"encoding":{"x":{"datum":406,"axis":null},"y":{"datum":17,"axis":null}}}
]},
{"width":392,"height":537,"resolve":{"axis":{"x":"independent","y":"independent"}},"layer":[
{"data":{"name":"eth"},"mark":{"type":"rule","strokeWidth":1.3,"opacity":0.85},"encoding":{
"x":{"field":"m","type":"quantitative","scale":{"domain":[-637,788],"nice":false,"zero":false},"axis":{"values":[-600,-360,0,120,360,600],"labelExpr":"datum.value==0?'12/15':format((datum.value+1440)%1440/60,'02d')+':00'","tickSize":3,"tickColor":"#bbbbbb","labelPadding":3,"minExtent":18,"maxExtent":18}},
"y":{"field":"lo","type":"quantitative","scale":{"domain":[612.1,759.2],"nice":false,"zero":false},"axis":{"orient":"right","values":[620,630,640,650,660,670,680,690,700,710,720,730,740,750],"format":".2f","tickSize":0,"labelPadding":4,"minExtent":33,"maxExtent":33}},
"y2":{"field":"hi"},
"color":{"field":"c","type":"nominal","scale":{"domain":["g","r"],"range":["#abd7a3","#c66650"]},"legend":null}}},
{"data":{"values":[{}]},"mark":{"type":"rule","color":"#d0d0d0"},"encoding":{"x":{"datum":0,"axis":null}}},
{"data":{"values":[{}]},"mark":{"type":"rule","color":"#dddddd"},"encoding":{"y":{"datum":759.2,"axis":null}}},
{"data":{"values":[{"last":643.212}]},"mark":{"type":"point","shape":"M-1,-.33H1V.33H-1Z","filled":true,"opacity":1,"color":"#4fb0e0","size":1156,"xOffset":16},"encoding":{"x":{"datum":788,"axis":null},"y":{"field":"last","type":"quantitative","axis":null}}},
{"data":{"values":[{"last":643.212}]},"mark":{"type":"text","font":"Liberation Sans","fontSize":8,"fontWeight":"bold","color":"#ffffff","dx":16},"encoding":{"x":{"datum":788,"axis":null},"y":{"field":"last","type":"quantitative","axis":null},"text":{"field":"last","format":".3f"}}},
{"data":{"values":[{}]},"mark":{"type":"point","shape":"M-1,-.36H1V.36H-1Z","filled":true,"opacity":1,"color":"#fafafa","stroke":"#eeeeee","size":3481},"encoding":{"x":{"datum":108,"axis":null},"y":{"datum":621.7,"axis":null}}},
{"data":{"values":[{}]},"mark":{"type":"point","shape":"M-1,-.72H1V.72H-1Z","filled":true,"opacity":1,"color":"#fafafa","stroke":"#eeeeee","size":841},"encoding":{"x":{"datum":295,"axis":null},"y":{"datum":621.7,"axis":null}}},
{"data":{"values":[{}]},"mark":{"type":"text","fontSize":16,"fontWeight":"bold","color":"#5aa9dc"},"encoding":{"x":{"datum":53,"axis":null},"y":{"datum":621.7,"axis":null},"text":{"value":"−"}}},
{"data":{"values":[{}]},"mark":{"type":"text","fontSize":16,"fontWeight":"bold","color":"#5aa9dc"},"encoding":{"x":{"datum":159,"axis":null},"y":{"datum":621.7,"axis":null},"text":{"value":"+"}}},
{"data":{"values":[{}]},"mark":{"type":"point","shape":"M-.9,0a.3,.3 0 1,0 .6,0a.3,.3 0 1,0 -.6,0ZM.3,-.7a.3,.3 0 1,0 .6,0a.3,.3 0 1,0 -.6,0ZM.3,.7a.3,.3 0 1,0 .6,0a.3,.3 0 1,0 -.6,0ZM-.6,-.1L.6,-.8V-.6L-.6,.1ZM-.6,-.1L.6,.6V.8L-.6,.1Z","filled":true,"opacity":1,"color":"#5aa9dc","size":170},"encoding":{"x":{"datum":295,"axis":null},"y":{"datum":621.7,"axis":null}}}
]}
]},
{"width":3,"height":586,"data":{"values":[{}]},"view":{"fill":"#e2e2e2","stroke":null},"mark":{"type":"rule","opacity":0},"encoding":{}},
{"spacing":0,"bounds":"flush","vconcat":[
{"width":427,"height":31,"view":{"fill":"#f7f7f7","stroke":null},"data":{"values":[{}]},"layer":[
{"mark":{"type":"rule","color":"#ebebeb"},"encoding":{"x":{"datum":124,"scale":{"domain":[0,427],"nice":false},"axis":null}}},
{"mark":{"type":"rule","color":"#ebebeb"},"encoding":{"x":{"datum":284,"axis":null}}},
{"mark":{"type":"rule","color":"#ebebeb"},"encoding":{"x":{"datum":319,"axis":null}}},
{"mark":{"type":"rule","color":"#ebebeb"},"encoding":{"x":{"datum":356,"axis":null}}},
{"mark":{"type":"rule","color":"#ebebeb"},"encoding":{"x":{"datum":390,"axis":null}}},
{"mark":{"type":"point","shape":"square","filled":true,"opacity":1,"color":"#173a6b","size":529},"encoding":{"x":{"datum":22,"axis":null},"y":{"datum":16,"scale":{"domain":[0,31],"nice":false},"axis":null}}},
{"mark":{"type":"text","fontSize":19,"fontWeight":"bold","fontStyle":"italic","color":"#ffffff"},"encoding":{"x":{"datum":22,"axis":null},"y":{"datum":16,"axis":null},"text":{"value":"Ł"}}},
{"mark":{"type":"text","align":"left","fontSize":12,"fontWeight":600,"color":"#333333"},"encoding":{"x":{"datum":41,"axis":null},"y":{"datum":16,"axis":null},"text":{"value":"LTC"}}},
{"mark":{"type":"point","shape":"M-1,-.46H1V.46H-1Z","filled":true,"opacity":1,"color":"#f1f1f1","size":2704},"encoding":{"x":{"datum":175,"axis":null},"y":{"datum":17,"axis":null}}},
{"mark":{"type":"point","shape":"M-1,-.46H1V.46H-1Z","filled":true,"opacity":1,"color":"#f1f1f1","size":2704},"encoding":{"x":{"datum":254,"axis":null},"y":{"datum":17,"axis":null}}},
{"mark":{"type":"point","shape":"M-1,-1.1H1V1.1H-1Z","filled":true,"opacity":1,"color":"#636a85","size":484},"encoding":{"x":{"datum":137.5,"axis":null},"y":{"datum":17,"axis":null}}},
{"mark":{"type":"point","shape":"M-1,-1.1H1V1.1H-1Z","filled":true,"opacity":1,"color":"#636a85","size":484},"encoding":{"x":{"datum":217,"axis":null},"y":{"datum":17,"axis":null}}},
{"mark":{"type":"text","font":"Noto Sans CJK TC","fontSize":13,"color":"#ffffff"},"encoding":{"x":{"datum":137.5,"axis":null},"y":{"datum":17,"axis":null},"text":{"value":"賣"}}},
{"mark":{"type":"text","font":"Noto Sans CJK TC","fontSize":13,"color":"#ffffff"},"encoding":{"x":{"datum":217,"axis":null},"y":{"datum":17,"axis":null},"text":{"value":"買"}}},
{"mark":{"type":"text","align":"right","fontSize":10.5,"color":"#333333"},"encoding":{"x":{"datum":196,"axis":null},"y":{"datum":17,"axis":null},"text":{"value":"259.04"}}},
{"mark":{"type":"text","align":"right","fontSize":10.5,"color":"#333333"},"encoding":{"x":{"datum":276,"axis":null},"y":{"datum":17,"axis":null},"text":{"value":"270.23"}}},
{"mark":{"type":"point","shape":"square","filled":true,"opacity":1,"color":"#ffffff","stroke":"#eeeeee","size":625},"encoding":{"x":{"datum":301,"axis":null},"y":{"datum":17,"axis":null}}},
{"mark":{"type":"point","shape":"M-1,0H-.3M.3,0H1M0,-1V-.3M0,.3V1","filled":false,"opacity":1,"color":"#777777","strokeWidth":1,"size":196},"encoding":{"x":{"datum":301,"axis":null},"y":{"datum":17,"axis":null}}},
{"mark":{"type":"text","font":"Noto Sans CJK TC","fontSize":10,"color":"#9a9a9a"},"encoding":{"x":{"datum":337,"axis":null},"y":{"datum":16,"axis":null},"text":{"value":"5分 ▾"}}},
{"mark":{"type":"text","font":"DejaVu Sans","fontSize":18,"color":"#8b8b8b"},"encoding":{"x":{"datum":373,"axis":null},"y":{"datum":17,"axis":null},"text":{"value":"⚙"}}},
{"mark":{"type":"point","shape":"M.2,-.9H.9V-.2L.65,-.45L.3,-.1L.1,-.3L.45,-.65ZM-.2,.9H-.9V.2L-.65,.45L-.3,.1L-.1,.3L-.45,.65Z","filled":true,"opacity":1,"color":"#a5a5a5","size":256},"encoding":{"x":{"datum":407,"axis":null},"y":{"datum":17,"axis":null}}}
]},
{"width":392,"height":537,"resolve":{"axis":{"x":"independent","y":"independent"}},"layer":[
{"data":{"name":"ltc"},"mark":{"type":"rule","strokeWidth":1.3,"opacity":0.85},"encoding":{
"x":{"field":"m","type":"quantitative","scale":{"domain":[-282,753],"nice":false,"zero":false},"axis":{"values":[-240,-120,0,120,240,360,480,600],"labelExpr":"datum.value==0?'12/15':format((datum.value+1440)%1440/60,'02d')+':00'","tickSize":3,"tickColor":"#bbbbbb","labelPadding":3,"minExtent":18,"maxExtent":18}},
"y":{"field":"lo","type":"quantitative","scale":{"domain":[246.83,301.14],"nice":false,"zero":false},"axis":{"orient":"right","values":[250,255,260,265,270,275,280,285,290,295,300],"format":".2f","tickSize":0,"labelPadding":4,"minExtent":35,"maxExtent":35}},
"y2":{"field":"hi"},
"color":{"field":"c","type":"nominal","scale":{"domain":["g","r"],"range":["#abd7a3","#c66650"]},"legend":null}}},
{"data":{"values":[{}]},"mark":{"type":"rule","color":"#d0d0d0"},"encoding":{"x":{"datum":0,"axis":null}}},
{"data":{"values":[{}]},"mark":{"type":"rule","color":"#dddddd"},"encoding":{"y":{"datum":301.14,"axis":null}}},
{"data":{"values":[{"last":259.04}]},"mark":{"type":"point","shape":"M-1,-.37H1V.37H-1Z","filled":true,"opacity":1,"color":"#4fb0e0","size":900,"xOffset":14},"encoding":{"x":{"datum":753,"axis":null},"y":{"field":"last","type":"quantitative","axis":null}}},
{"data":{"values":[{"last":259.04}]},"mark":{"type":"text","font":"Liberation Sans","fontSize":8,"fontWeight":"bold","color":"#ffffff","dx":14},"encoding":{"x":{"datum":753,"axis":null},"y":{"field":"last","type":"quantitative","axis":null},"text":{"field":"last","format":".2f"}}},
{"data":{"values":[{}]},"mark":{"type":"point","shape":"M-1,-.36H1V.36H-1Z","filled":true,"opacity":1,"color":"#fafafa","stroke":"#eeeeee","size":3481},"encoding":{"x":{"datum":262,"axis":null},"y":{"datum":250.4,"axis":null}}},
{"data":{"values":[{}]},"mark":{"type":"point","shape":"M-1,-.72H1V.72H-1Z","filled":true,"opacity":1,"color":"#fafafa","stroke":"#eeeeee","size":841},"encoding":{"x":{"datum":397,"axis":null},"y":{"datum":250.4,"axis":null}}},
{"data":{"values":[{}]},"mark":{"type":"text","fontSize":16,"fontWeight":"bold","color":"#5aa9dc"},"encoding":{"x":{"datum":223,"axis":null},"y":{"datum":250.4,"axis":null},"text":{"value":"−"}}},
{"data":{"values":[{}]},"mark":{"type":"text","fontSize":16,"fontWeight":"bold","color":"#5aa9dc"},"encoding":{"x":{"datum":297,"axis":null},"y":{"datum":250.4,"axis":null},"text":{"value":"+"}}},
{"data":{"values":[{}]},"mark":{"type":"point","shape":"M-.9,0a.3,.3 0 1,0 .6,0a.3,.3 0 1,0 -.6,0ZM.3,-.7a.3,.3 0 1,0 .6,0a.3,.3 0 1,0 -.6,0ZM.3,.7a.3,.3 0 1,0 .6,0a.3,.3 0 1,0 -.6,0ZM-.6,-.1L.6,-.8V-.6L-.6,.1ZM-.6,-.1L.6,.6V.8L-.6,.1Z","filled":true,"opacity":1,"color":"#5aa9dc","size":170},"encoding":{"x":{"datum":397,"axis":null},"y":{"datum":250.4,"axis":null}}}
]}
]}
],
"spacing":-1
}
